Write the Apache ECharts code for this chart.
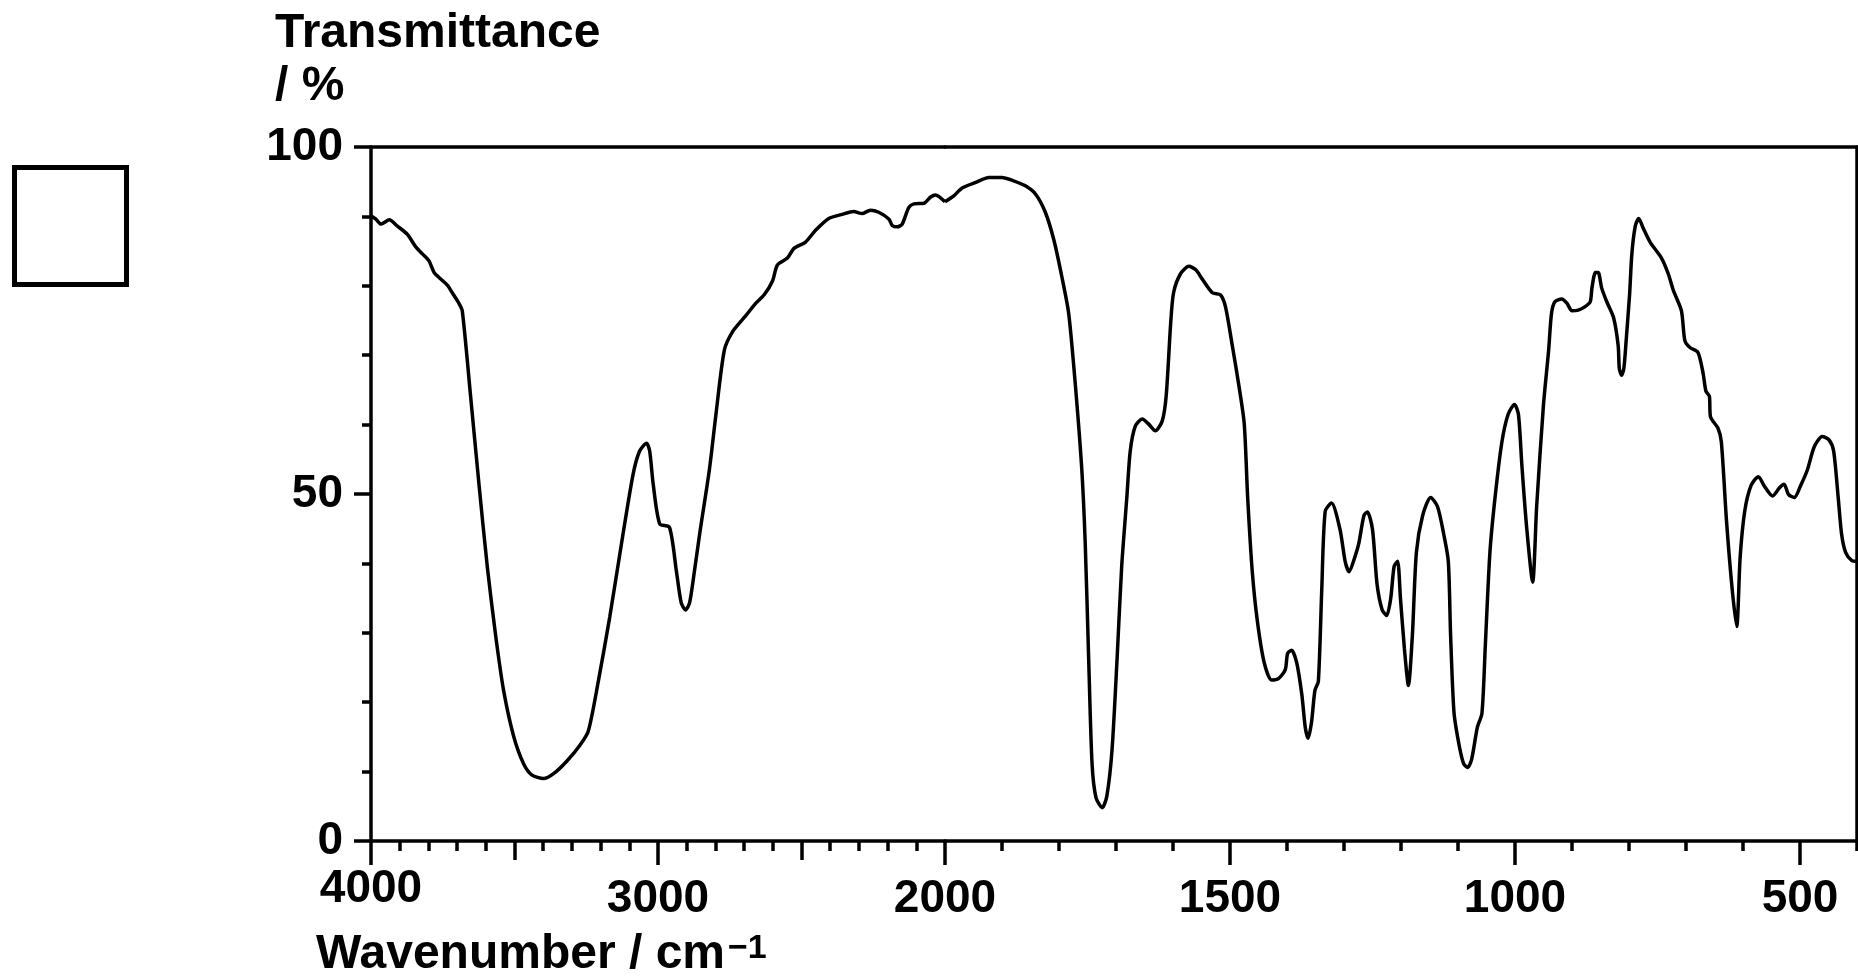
<!DOCTYPE html>
<html>
<head>
<meta charset="utf-8">
<script src="https://cdn.jsdelivr.net/npm/echarts@6/dist/echarts.min.js"></script>
<style>
  html, body { margin: 0; padding: 0; background: #fff; }
  #chart { width: 1858px; height: 980px; }
</style>
</head>
<body>
<div id="chart"></div>
<script>
// ---- data ----
const wavenumber = [
  4000, 3983, 3965, 3936, 3908, 3873, 3844, 3821, 3798, 3780, 3763, 3734, 3717, 3694, 3682,
  3653, 3624, 3595, 3566, 3538, 3503, 3468, 3439, 3399, 3364, 3318, 3272, 3243, 3208, 3168,
  3127, 3087, 3064, 3040, 3029, 3017, 2994, 2960, 2936, 2919, 2904, 2890, 2873, 2855, 2821,
  2798, 2769, 2740, 2694, 2659, 2630, 2601, 2584, 2549, 2526, 2486, 2451, 2405, 2358, 2318,
  2289, 2260, 2231, 2195, 2184, 2166, 2149, 2126, 2108, 2073, 2050, 2033, 2000,
  1984, 1970, 1946, 1923, 1900, 1882, 1859, 1841, 1824, 1809, 1795, 1783, 1771, 1760, 1754,
  1748, 1742, 1735, 1724, 1716, 1707, 1698, 1690, 1681, 1675, 1666, 1654, 1643, 1631, 1619,
  1612, 1604, 1599, 1587, 1572, 1560, 1549, 1531, 1517, 1508, 1496, 1484, 1475, 1469, 1461,
  1452, 1440, 1427, 1415, 1403, 1399, 1392, 1383, 1374, 1368, 1363, 1357, 1351, 1345, 1339,
  1333, 1322, 1307, 1298, 1291, 1281, 1274, 1265, 1259, 1250, 1242, 1233, 1225, 1218, 1212,
  1206, 1201, 1194, 1187, 1180, 1173, 1162, 1148, 1136, 1125, 1117, 1113, 1107, 1098, 1090,
  1083, 1076, 1066, 1058, 1052, 1044, 1035, 1023, 1012, 1001, 994, 988, 980, 969, 962,
  950, 941, 936, 930, 918, 909, 900, 889, 877, 868, 865, 859, 854, 848, 839,
  827, 819, 817, 813, 809, 805, 799, 795, 789, 783, 775, 763, 743, 731, 722,
  708, 702, 693, 679, 670, 665, 659, 657, 644, 638, 629, 619, 611, 605, 597,
  586, 573, 563, 548, 536, 528, 520, 510, 499, 487, 475, 461, 449, 441, 433,
  427, 420, 409, 400
];
const transmittance = [
  90.1, 89.6, 88.9, 89.5, 88.6, 87.4, 85.6, 84.6, 83.6, 81.9, 81.2, 80.1, 79.0, 77.5, 76.4,
  64.1, 51.5, 39.6, 29.7, 21.7, 15.1, 11.1, 9.5, 9.0, 9.7, 11.5, 13.8, 15.8, 23.0, 32.3,
  42.9, 52.8, 56.2, 57.3, 56.2, 51.5, 45.7, 45.2, 38.9, 34.3, 33.3, 34.3, 38.9, 44.2, 53.5,
  61.5, 70.7, 73.4, 75.7, 77.5, 78.7, 80.7, 83.0, 84.0, 85.4, 86.3, 88.0, 89.7, 90.3, 90.7,
  90.4, 90.9, 90.6, 89.6, 88.7, 88.5, 88.9, 91.3, 91.8, 91.9, 92.8, 93.1, 92.1,
  93.0, 94.1, 94.9, 95.6, 95.6, 95.2, 94.4, 93.2, 90.6, 86.6, 81.3, 76.0, 65.4, 53.5, 42.9,
  26.4, 11.1, 6.2, 4.8, 6.5, 13.1, 26.4, 39.6, 49.5, 56.2, 59.8, 60.8, 60.1, 59.1, 60.5,
  64.1, 74.7, 79.0, 81.7, 82.8, 82.3, 81.0, 79.0, 78.7, 77.0, 71.4, 65.4, 60.1, 49.5, 38.9,
  31.7, 25.7, 23.2, 23.4, 24.7, 27.0, 27.5, 25.7, 21.1, 16.4, 14.8, 17.1, 21.7, 23.0, 36.3,
  47.5, 48.7, 44.9, 40.3, 38.8, 40.9, 42.9, 46.9, 47.4, 44.9, 37.0, 33.3, 32.5, 35.0, 39.6,
  40.3, 35.0, 27.7, 22.4, 29.7, 41.6, 46.9, 49.5, 48.2, 44.2, 40.3, 29.7, 18.5, 13.8, 11.1,
  10.6, 11.8, 16.4, 18.4, 28.3, 41.6, 49.5, 57.5, 61.5, 62.9, 61.5, 54.2, 45.6, 37.3, 48.2,
  62.9, 70.7, 76.0, 77.7, 78.1, 77.5, 76.4, 76.5, 77.0, 77.7, 79.7, 81.9, 81.9, 79.7, 77.7,
  75.4, 71.4, 68.1, 67.1, 68.1, 72.1, 78.7, 84.6, 88.6, 89.7, 88.3, 86.3, 84.0, 81.7, 79.3,
  76.4, 72.1, 71.1, 70.4, 67.4, 64.8, 64.1, 61.1, 59.5, 57.5, 46.2, 36.3, 30.9, 40.9, 47.5,
  51.2, 52.5, 51.2, 49.7, 50.9, 51.4, 49.9, 49.5, 51.2, 53.5, 56.8, 58.3, 57.8, 56.2, 49.5,
  44.2, 41.6, 40.4, 40.3
];

// ---- axis ticks / labels ----
const highMajorTicks = [4000, 3000, 2000];
const highMidTicks = [3500, 2500];
const highMinorTicks = [3900, 3800, 3700, 3600, 3400, 3300, 3200, 3100, 2900, 2800, 2700, 2600, 2400, 2300, 2200, 2100];
const highLabels = [3000, 2000];
const edgeLabels = [4000];
const lowMajorTicks = [1500, 1000, 500];
const lowMinorTicks = [1900, 1800, 1700, 1600, 1400, 1300, 1200, 1100, 900, 800, 700, 600, 400];
const lowLabels = [1500, 1000, 500];
const yLabels = [0, 50, 100];

const yTitle = 'Transmittance\n/ %';
const xTitle = 'Wavenumber / cm';
const xTitleSup = '−1';

// ---- build series data ----
const pairs = wavenumber.map((w, i) => [w, transmittance[i]]);
const highData = pairs.filter(p => p[0] >= 2000);
const lowData = pairs.filter(p => p[0] <= 2000);

const FONT = '"Liberation Sans", Arial, Helvetica, sans-serif';
const black = '#000';
const AX_W = 3.5;
const plain = v => String(v);
const labelStyle = { fontSize: 46, fontWeight: 'bold', color: black, fontFamily: FONT, formatter: plain };

const chart = echarts.init(document.getElementById('chart'), null, { renderer: 'canvas' });

function hiddenX(grid, min, max, extra) {
  return Object.assign({
    type: 'value', gridIndex: grid, min: min, max: max, inverse: true, position: 'bottom',
    axisLine: { show: false }, axisTick: { show: false }, axisLabel: { show: false },
    splitLine: { show: false }
  }, extra);
}

const option = {
  animation: false,
  backgroundColor: '#fff',
  title: [
    { text: yTitle, left: 275, top: 7, padding: 0,
      textStyle: { fontSize: 48, fontWeight: 'bold', color: black, fontFamily: FONT, lineHeight: 53 } },
    { text: xTitle + '{sup|' + xTitleSup + '}', left: 316, top: 931, padding: 0,
      textStyle: { fontSize: 48, fontWeight: 'bold', color: black, fontFamily: FONT, lineHeight: 48,
        rich: { sup: { fontSize: 34, fontWeight: 'bold', color: black, fontFamily: FONT, lineHeight: 34, padding: [0, 0, 12, 3] } } } }
  ],
  graphic: [
    { type: 'rect', shape: { x: 14.5, y: 167.5, width: 112, height: 117 },
      style: { fill: 'none', stroke: black, lineWidth: 5 } }
  ],
  grid: [
    { left: 371, top: 147, width: 574, height: 694, containLabel: false },
    { left: 945, top: 147, width: 912, height: 694, containLabel: false }
  ],
  xAxis: [
    // grid 0 : 4000 -> 2000
    { type: 'value', gridIndex: 0, min: 2000, max: 4000, inverse: true, position: 'bottom',
      axisLine: { show: true, onZero: false, lineStyle: { color: black, width: AX_W } },
      axisTick: { show: true, customValues: highMajorTicks, length: 24, inside: false, lineStyle: { color: black, width: AX_W } },
      axisLabel: { show: true, customValues: highLabels, margin: 35, ...labelStyle },
      splitLine: { show: false } },
    hiddenX(0, 2000, 4000, {
      axisTick: { show: true, customValues: highMinorTicks, length: 10, lineStyle: { color: black, width: AX_W } },
      axisLabel: { show: true, customValues: edgeLabels, margin: 25, ...labelStyle } }),
    hiddenX(0, 2000, 4000, {
      axisTick: { show: true, customValues: highMidTicks, length: 19, lineStyle: { color: black, width: AX_W } } }),
    hiddenX(0, 2000, 4000, { position: 'top',
      axisLine: { show: true, onZero: false, lineStyle: { color: black, width: AX_W } } }),
    // grid 1 : 2000 -> 400
    { type: 'value', gridIndex: 1, min: 400, max: 2000, inverse: true, position: 'bottom',
      axisLine: { show: true, onZero: false, lineStyle: { color: black, width: AX_W } },
      axisTick: { show: true, customValues: lowMajorTicks, length: 24, lineStyle: { color: black, width: AX_W } },
      axisLabel: { show: true, customValues: lowLabels, margin: 35, ...labelStyle },
      splitLine: { show: false } },
    hiddenX(1, 400, 2000, {
      axisTick: { show: true, customValues: lowMinorTicks, length: 10, lineStyle: { color: black, width: AX_W } } }),
    hiddenX(1, 400, 2000, { position: 'top',
      axisLine: { show: true, onZero: false, lineStyle: { color: black, width: AX_W } } })
  ],
  yAxis: [
    { type: 'value', gridIndex: 0, min: 0, max: 100, interval: 50, position: 'left',
      axisLine: { show: true, onZero: false, lineStyle: { color: black, width: AX_W } },
      axisTick: { show: true, length: 17, lineStyle: { color: black, width: AX_W } },
      minorTick: { show: true, splitNumber: 5, length: 9, lineStyle: { color: black, width: AX_W } },
      axisLabel: { show: true, margin: 28, customValues: yLabels, ...labelStyle },
      splitLine: { show: false }, minorSplitLine: { show: false } },
    { type: 'value', gridIndex: 1, min: 0, max: 100, interval: 50, position: 'right',
      axisLine: { show: true, onZero: false, lineStyle: { color: black, width: AX_W } },
      axisTick: { show: false }, axisLabel: { show: false }, splitLine: { show: false } }
  ],
  series: [
    { type: 'line', xAxisIndex: 0, yAxisIndex: 0, data: highData, showSymbol: false, symbol: 'none',
      smooth: 0.25, lineStyle: { color: black, width: 3.5 }, clip: true, z: 3 },
    { type: 'line', xAxisIndex: 4, yAxisIndex: 1, data: lowData, showSymbol: false, symbol: 'none',
      smooth: 0.25, lineStyle: { color: black, width: 3.5 }, clip: true, z: 3 }
  ]
};
chart.setOption(option);
</script>
</body>
</html>
